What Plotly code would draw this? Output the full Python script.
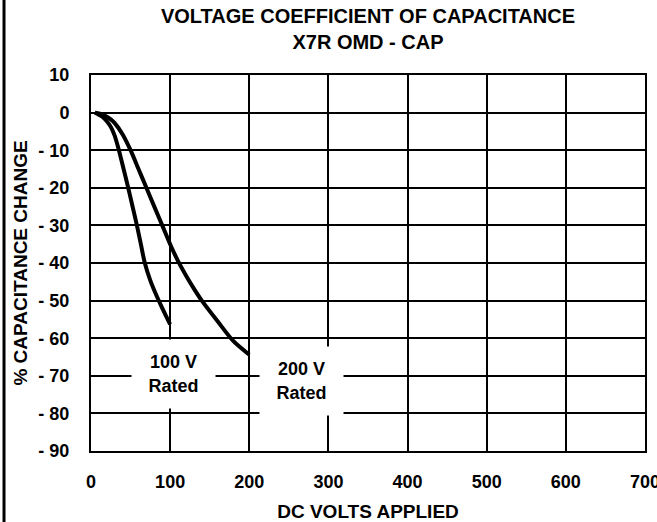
import plotly.graph_objects as go

# Data
volts_100 = [5, 10, 15, 20, 25, 30, 35, 40, 47, 52, 58, 63, 68, 75, 80, 85, 90, 95, 100]
cap_100 = [0, -0.6, -1.2, -2.3, -3.8, -6.2, -9.8, -14.0, -20.0, -24.5, -30.0, -35.0, -40.0,
           -44.7, -47.3, -49.7, -52.0, -54.2, -56.3]

volts_200 = [5, 15, 25, 30, 40, 50, 60, 70, 80, 90, 100, 110, 120, 130, 140, 160, 180, 200]
cap_200 = [0, -0.5, -1.8, -2.8, -5.8, -10.0, -15.0, -20.0, -25.0, -30.0, -35.0, -39.5, -43.3,
           -46.8, -50.0, -55.5, -60.8, -64.4]

x_tick_vals = [0, 100, 200, 300, 400, 500, 600, 700]
x_tick_text = ["0", "100", "200", "300", "400", "500", "600", "700"]
y_tick_vals = [10, 0, -10, -20, -30, -40, -50, -60, -70, -80, -90]
y_tick_text = ["10", "0", "- 10", "- 20", "- 30", "- 40", "- 50", "- 60", "- 70", "- 80", "- 90"]

series_labels = ["100 V<br>Rated", "200 V<br>Rated"]

FONT = "Liberation Sans, Arial, Helvetica, sans-serif"

fig = go.Figure()
for vx, vy, name in [(volts_100, cap_100, "100 V Rated"), (volts_200, cap_200, "200 V Rated")]:
    fig.add_trace(go.Scatter(
        x=vx, y=vy, mode="lines", name=name,
        line=dict(color="black", width=4, shape="spline", smoothing=0.8),
        showlegend=False, hoverinfo="x+y",
    ))

axis_common = dict(
    showgrid=True, gridcolor="black", gridwidth=1.5,
    zeroline=False, showline=True, linecolor="black", linewidth=2, mirror=True,
    ticks="", automargin=False,
    tickfont=dict(family=FONT, size=18, color="black", weight="bold"),
)

fig.update_xaxes(
    range=[0, 700], tickmode="array", tickvals=x_tick_vals, ticktext=x_tick_text,
    ticklabelstandoff=13, ticklabeloverflow="allow",
    title=dict(text="DC VOLTS APPLIED", standoff=21,
               font=dict(family=FONT, size=19, color="black", weight="bold")),
    **axis_common,
)
fig.update_yaxes(
    range=[-90, 10], tickmode="array", tickvals=y_tick_vals, ticktext=y_tick_text,
    ticklabelstandoff=16,
    title=dict(text="% CAPACITANCE CHANGE", standoff=6,
               font=dict(family=FONT, size=19, color="black", weight="bold")),
    **axis_common,
)

label_font = dict(family=FONT, size=18, color="black", weight="bold")
fig.add_annotation(x=104, y=-69.6, xref="x", yref="y", text=series_labels[0],
                   showarrow=False, bgcolor="white", width=83, height=68,
                   borderpad=0, font=label_font)
fig.add_annotation(x=266, y=-71.4, xref="x", yref="y", text=series_labels[1],
                   showarrow=False, bgcolor="white", width=83, height=68,
                   borderpad=0, font=label_font)

# Frame line at the left edge of the figure
fig.add_shape(type="line", xref="paper", yref="paper",
              x0=-0.157, x1=-0.157, y0=-0.3, y1=1.3,
              line=dict(color="black", width=3))

fig.update_layout(
    width=657, height=522,
    margin=dict(l=91, r=12, t=75, b=71, autoexpand=False),
    paper_bgcolor="white", plot_bgcolor="white",
    title=dict(text="VOLTAGE COEFFICIENT OF CAPACITANCE<br>X7R OMD - CAP",
               x=0.5, xref="paper", xanchor="center", yref="container",
               y=0.955, yanchor="top",
               font=dict(family=FONT, size=20, color="black", weight="bold")),
    font=dict(family=FONT, color="black"),
)

fig.write_html("out.html", config={"displayModeBar": False},
               post_script="document.body.style.margin='0';")
